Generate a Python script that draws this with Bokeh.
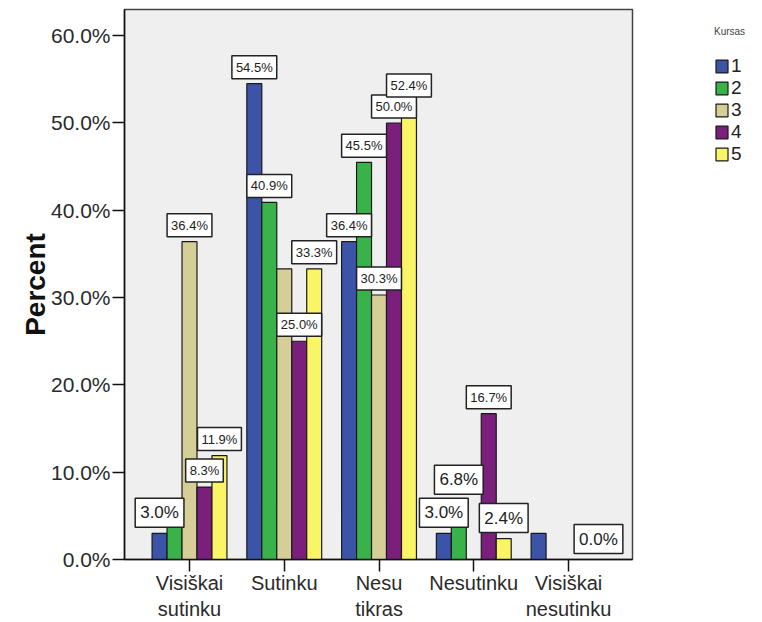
from bokeh.plotting import figure
from bokeh.models import (ColumnDataSource, Legend, LegendItem, FixedTicker,
                          PrintfTickFormatter, Range1d)
from bokeh.transform import dodge
from bokeh.core.properties import value
from bokeh.embed import file_html
from bokeh.resources import INLINE

# ---------------- data ----------------
categories = ["Visiškai sutinku", "Sutinku", "Nesu tikras", "Nesutinku", "Visiškai nesutinku"]
tick_labels = ["Visiškai\nsutinku", "Sutinku", "Nesu\ntikras", "Nesutinku", "Visiškai\nnesutinku"]
kursas = ["1", "2", "3", "4", "5"]

k1 = [3.0, 54.5, 36.4, 3.0, 3.0]
k2 = [6.8, 40.9, 45.5, 6.8, 0.0]
k3 = [36.4, 33.3, 30.3, 0.0, 0.0]
k4 = [8.3, 25.0, 50.0, 16.7, 0.0]
k5 = [11.9, 33.3, 52.4, 2.4, 0.0]
series = [k1, k2, k3, k4, k5]

# which value labels are visible in the original ("big", "small" or None)
lab1 = ["big", "small", "small", "big", None]
lab2 = [None, "small", "small", "big", None]
lab3 = ["small", None, "small", None, None]
lab4 = ["small", "small", "small", "small", None]
lab5 = ["small", "small", "small", "big", "big"]
label_kind = [lab1, lab2, lab3, lab4, lab5]

y_ticks = [0, 10, 20, 30, 40, 50, 60]

colors = ["#3c54a8", "#3ab24a", "#d6ce97", "#7a1f7c", "#faf566"]

FONT = "Liberation Sans"
BAR_W = 0.158

p = figure(frame_width=508, frame_height=550,
           x_range=Range1d(0.314, 5.675), y_range=Range1d(0, 63),
           output_backend="svg", toolbar_location=None,
           min_border_left=124, min_border_top=9, min_border_right=120,
           min_border_bottom=0)

p.background_fill_color = "#efefef"
p.border_fill_color = "white"
p.outline_line_color = "#444444"
p.outline_line_width = 1.5
p.xgrid.visible = False
p.ygrid.visible = False

xs = list(range(1, len(categories) + 1))
renderers = []
small_src = dict(x=[], y=[], text=[])
big_src = dict(x=[], y=[], text=[])
for i, (vals, col) in enumerate(zip(series, colors)):
    off = (i - 2) * BAR_W
    src = ColumnDataSource(dict(x=xs, top=vals))
    r = p.vbar(x=dodge("x", off, range=p.x_range), top="top", width=BAR_W,
               source=src, fill_color=col, line_color="#1a1a1a", line_width=1.2)
    renderers.append(r)
    for j, v in enumerate(vals):
        kind = label_kind[i][j]
        if kind is None:
            continue
        d = small_src if kind == "small" else big_src
        d["x"].append(xs[j] + off)
        d["y"].append(v)
        d["text"].append(f"{v:.1f}%")

p.text(x="x", y="y", text="text", source=ColumnDataSource(small_src),
       text_align="center", text_baseline="bottom",
       text_font=value(FONT), text_font_size="13px", text_color="#222222",
       background_fill_color="white", border_line_color="#222222",
       border_line_width=1.5, padding=4, y_offset=-5)
p.text(x="x", y="y", text="text", source=ColumnDataSource(big_src),
       text_align="center", text_baseline="bottom",
       text_font=value(FONT), text_font_size="17px", text_color="#222222",
       background_fill_color="white", border_line_color="#222222",
       border_line_width=1.5, padding=5, y_offset=-6)

# axes
p.yaxis.ticker = FixedTicker(ticks=y_ticks)
p.yaxis.formatter = PrintfTickFormatter(format="%.1f%%")
p.yaxis.major_tick_out = 12
p.yaxis.major_tick_in = 0
p.yaxis.minor_tick_line_color = None
p.yaxis.major_label_standoff = 2
p.yaxis.major_label_text_font_size = "21px"
p.yaxis.axis_label = "Percent"
p.yaxis.axis_label_text_font = FONT
p.yaxis.axis_label_text_font_style = "bold"
p.yaxis.axis_label_text_font_size = "28px"
p.yaxis.axis_label_text_color = "#111111"
p.yaxis.axis_label_standoff = -3

p.xaxis.ticker = FixedTicker(ticks=xs)
p.xaxis.major_label_overrides = {x: t for x, t in zip(xs, tick_labels)}
p.xaxis.major_tick_out = 12
p.xaxis.major_tick_in = 0
p.xaxis.minor_tick_line_color = None
p.xaxis.major_label_standoff = 0
p.xaxis.major_label_text_font_size = "20px"

for ax in (p.xaxis, p.yaxis):
    ax.major_label_text_font = FONT
    ax.major_label_text_color = "#2a2a2a"
    ax.axis_line_color = "#111111"
    ax.axis_line_width = 1.5
    ax.major_tick_line_color = "#111111"
    ax.major_tick_line_width = 1.5

legend = Legend(items=[LegendItem(label=k, renderers=[r]) for k, r in zip(kursas, renderers)],
                title="Kursas", location=(82, 394))
legend.title_text_font = FONT
legend.title_text_font_size = "10px"
legend.title_text_color = "#444444"
legend.title_text_font_style = "normal"
legend.title_standoff = 18
legend.label_text_font = FONT
legend.label_text_font_size = "19px"
legend.label_text_color = "#222222"
legend.glyph_width = 15
legend.glyph_height = 16
legend.label_standoff = 2
legend.spacing = 0
legend.padding = 0
legend.margin = 0
legend.background_fill_alpha = 0
legend.border_line_alpha = 0
p.add_layout(legend, "right")

open("out.html", "w").write(file_html(p, INLINE))
